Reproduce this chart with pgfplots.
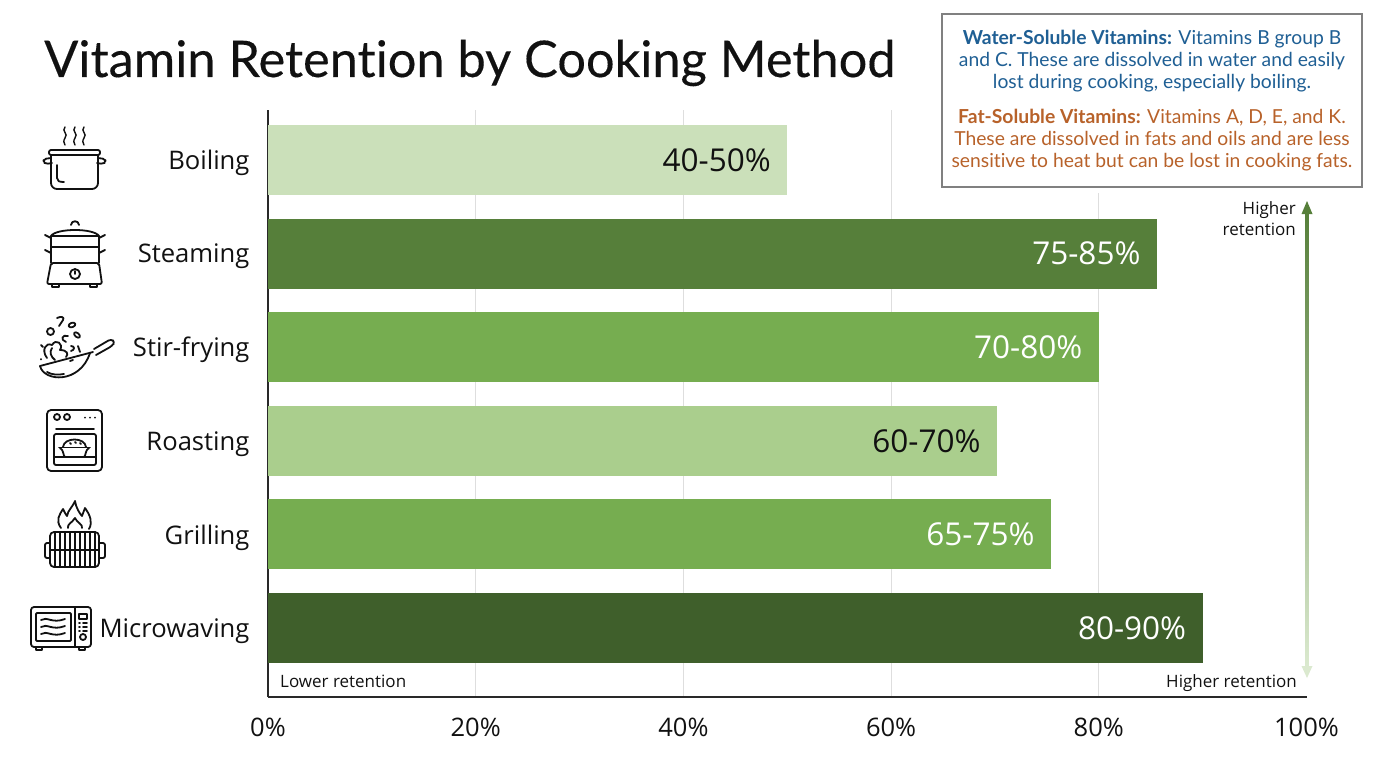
\documentclass[border=0pt]{standalone}
\usepackage{fontspec}
\setmainfont[Ligatures=NoCommon]{Open Sans}
\newfontfamily\boxfont[Ligatures=NoCommon]{Lato}
\newfontfamily\titlefont[Ligatures=NoCommon,FakeBold=0.25]{Lato}
\usepackage{pgfplots}
\pgfplotsset{compat=1.18}

\definecolor{barpale}{HTML}{CBE0BA}
\definecolor{barlight}{HTML}{AACE8D}
\definecolor{barmid}{HTML}{76AD50}
\definecolor{bardark}{HTML}{567F3A}
\definecolor{barxdark}{HTML}{3F5F2B}
\definecolor{inkblue}{HTML}{1F5F94}
\definecolor{inkorange}{HTML}{B8622A}
\definecolor{ink}{HTML}{111111}

\begin{document}
\begin{tikzpicture}
\useasboundingbox (0,0) rectangle (1376pt,-768pt);

\begin{axis}[
    at={(268pt,-697pt)}, anchor=south west,
    scale only axis, width=1038.5pt, height=587pt,
    xmin=0, xmax=100, ymin=-0.737, ymax=5.534,
    xbar, bar width=70pt, bar shift=0pt,
    axis x line*=bottom, axis y line*=left,
    axis line style={color=ink!90, line width=1.5pt, -},
    major tick length=0pt,
    xtick={0,20,40,60,80,100},
    xticklabels={0\%,20\%,40\%,60\%,80\%,100\%},
    ytick={0,1,2,3,4,5},
    yticklabels={Microwaving,Grilling,Roasting,Stir-frying,Steaming,Boiling},
    xmajorgrids, grid style={color=black!13, line width=1pt},
    x tick label style={font=\fontsize{25.5}{25.5}\selectfont, color=ink, yshift=-17pt},
    y tick label style={font=\fontsize{25.6}{25.6}\selectfont, color=ink, xshift=-15pt, yshift=-3pt},
    point meta=explicit symbolic,
    nodes near coords,
    every node near coord/.append style={anchor=east, font=\fontsize{31.5}{31.5}\selectfont, xshift=-13pt},
]
\addplot[draw=none, fill=barpale, every node near coord/.append style={color=ink}] coordinates {(50,5) [40-50\%]};
\addplot[draw=none, fill=bardark, every node near coord/.append style={color=white}] coordinates {(85.6,4) [75-85\%]};
\addplot[draw=none, fill=barmid, every node near coord/.append style={color=white}] coordinates {(80,3) [70-80\%]};
\addplot[draw=none, fill=barlight, every node near coord/.append style={color=ink}] coordinates {(70.2,2) [60-70\%]};
\addplot[draw=none, fill=barmid, every node near coord/.append style={color=white}] coordinates {(75.4,1) [65-75\%]};
\addplot[draw=none, fill=barxdark, every node near coord/.append style={color=white}] coordinates {(90,0) [80-90\%]};
\end{axis}

\begin{scope}[x=1pt, y=-1pt]
% retention arrow, over the 100% grid line
\draw[color=white, line width=2pt] (1306.5,110) -- (1306.5,696);
\shade[top color=bardark, bottom color=barpale!70] (1305.5,212) rectangle (1308.5,667);
\fill[color=bardark] (1307,201) -- (1301.5,214) -- (1312.5,214) -- cycle;
\fill[color=barpale!70] (1307,678) -- (1301.5,666) -- (1312.5,666) -- cycle;

% title
\node[anchor=base west, inner sep=0pt, color=ink, font=\titlefont\fontsize{50.5}{50.5}\selectfont] at (44,77) {Vitamin Retention by Cooking Method};

% info box
\draw[fill=white, draw=none] (936,8) rectangle (1376,193);
\draw[color=black!50, line width=1.2pt, fill=white] (942,14) rectangle (1362,187);
\begin{scope}[every node/.style={anchor=base, inner sep=0pt, font=\boxfont\fontsize{19.3}{19.3}\selectfont}]
\node[color=inkblue] at (1152,44.5) {\textbf{Water-Soluble Vitamins:} Vitamins B group B};
\node[color=inkblue] at (1152,66.5) {and C. These are dissolved in water and easily};
\node[color=inkblue] at (1152,88.5) {lost during cooking, especially boiling.};
\node[color=inkorange] at (1152,123.5) {\textbf{Fat-Soluble Vitamins:} Vitamins A, D, E, and K.};
\node[color=inkorange] at (1152,145.5) {These are dissolved in fats and oils and are less};
\node[color=inkorange] at (1152,167.5) {sensitive to heat but can be lost in cooking fats.};
\end{scope}

\begin{scope}[every node/.style={inner sep=0pt, color=ink, font=\fontsize{17}{17}\selectfont}]
\node[anchor=base east] at (1296,214) {Higher};
\node[anchor=base east] at (1296,235) {retention};
\node[anchor=base west] at (280,687) {Lower retention};
\node[anchor=base east] at (1297,687) {Higher retention};
\end{scope}

% icons
\begin{scope}[color=ink, line width=1.8pt, line cap=round, line join=round]
% pot
\foreach \x in {65,75,84} {
  \draw[line width=1.4pt] (\x,127) .. controls (\x-4,131) and (\x+4,134) .. (\x,138) .. controls (\x-2,141) and (\x-1,143) .. (\x,145);
}
\draw[rounded corners=2pt] (49,150) rectangle (100,155);
\draw[rounded corners=6pt] (51,155) -- (51,189) -- (98,189) -- (98,155);
\draw[rounded corners=2pt] (51,158) -- (44,159) -- (43,162) -- (46,164) -- (52,163);
\draw[rounded corners=2pt] (98,158) -- (105,159) -- (106,162) -- (103,164) -- (97,163);
\draw (57,165) -- (57,178) .. controls (57,181) and (59,182) .. (64,182);
% steamer
\draw (71,225) .. controls (71,220) and (79,220) .. (79,225);
\draw (51,236) .. controls (56,228) and (94,228) .. (99,236) -- cycle;
\draw (51,236) -- (51,263) (99,236) -- (99,263) (51,247) -- (99,247);
\draw (45,235) -- (51,238) (105,235) -- (99,238) (45,250) -- (51,253) (105,250) -- (99,253);
\draw[rounded corners=2pt] (51,263) -- (99,263) -- (102,284) -- (47,284) -- cycle;
\draw (75,274) circle (5);
\draw (75,274) -- (75,271);
\draw (52,284) -- (52,287) -- (59,287) -- (59,284) (90,284) -- (90,287) -- (97,287) -- (97,284);
% wok
\draw (40,366) -- (93,352);
\draw (40,366) .. controls (44,382) and (80,384) .. (90,353);
\draw (47,372) .. controls (52,375) and (58,375) .. (64,374);
\draw[rounded corners=3pt] (94,349) -- (111,339) -- (115,342) -- (112,346) -- (96,355);
\draw (47,358) .. controls (41,350) and (46,342) .. (52,345) .. controls (56,338) and (64,344) .. (60,350) .. controls (67,350) and (69,354) .. (66,357);
\draw (52,348) .. controls (49,352) and (51,357) .. (55,360);
\draw (50.5,331.5) circle (3.5);
\draw[rotate around={20:(72,325)}] (72,325) ellipse (3.5 and 2.2);
\draw[rotate around={-40:(77,335)}] (77,335) ellipse (3.5 and 2);
\draw (57,318) .. controls (61,316) and (65,317) .. (63,320) -- (59,326);
\draw (68,336) .. controls (62,334) and (60,340) .. (66,342);
\draw (71,346) .. controls (75,346) and (75,350) .. (71,351);
\draw (78,346) -- (80,352);
\draw (41,345) -- (43,347) (41,359) -- (41,359.5) (70,361) -- (73,360);
% oven
\draw[rounded corners=4pt] (47,410) rectangle (102,471);
\draw (57,417) circle (3) (67,417) circle (3);
\foreach \x in {85,90,95} { \fill (\x,417.5) circle (1); }
\draw (56,429) -- (94,429);
\draw[rounded corners=2pt] (54,434) rectangle (96,465);
\draw (54,457) -- (96,457);
\draw (59,447.5) -- (90,447.5);
\draw (60,448) .. controls (64,450) and (63,456) .. (65,457) (89,448) .. controls (85,450) and (86,456) .. (84,457);
\draw (63,447) .. controls (64,437) and (85,437) .. (86,447);
\draw (70,443) -- (71,444) (75,442) -- (76,443) (80,443) -- (81,444);
% grill
\draw[rounded corners=4pt] (50,532) rectangle (99,567);
\foreach \x in {55,60,...,95} { \draw (\x,532) -- (\x,567); }
\draw (50,550) -- (99,550);
\draw[rounded corners=2pt] (50,543) -- (45,543) -- (45,558) -- (50,558);
\draw[rounded corners=2pt] (99,543) -- (105,543) -- (105,558) -- (99,558);
\draw (61,528) .. controls (55,520) and (60,514) .. (63,509) .. controls (65,513) and (66,515) .. (67,516) .. controls (68,510) and (72,508) .. (75,501) .. controls (76,508) and (80,514) .. (82,516) .. controls (83,513) and (84,511) .. (85,508) .. controls (90,515) and (93,522) .. (89,529);
\draw (68,528) .. controls (67,524) and (72,523) .. (75,518) .. controls (77,523) and (83,524) .. (82,528);
% microwave
\draw[rounded corners=3pt] (31,607) rectangle (91,647);
\draw (75,607) -- (75,647);
\draw[rounded corners=1pt] (36,613) rectangle (71,641);
\foreach \y in {620,627,634} {
  \draw (41,\y) .. controls (47,\y-4) and (52,\y+4) .. (65,\y-1);
}
\draw (79,614) rectangle (87,619);
\foreach \y in {623,627,631} { \draw (79,\y) -- (80,\y) (83,\y) -- (87,\y); }
\draw (83,637) circle (3);
\draw (36,647) -- (36,650) -- (42,650) -- (42,647) (79,647) -- (79,650) -- (85,650) -- (85,647);
\end{scope}
\end{scope}
\end{tikzpicture}
\end{document}
